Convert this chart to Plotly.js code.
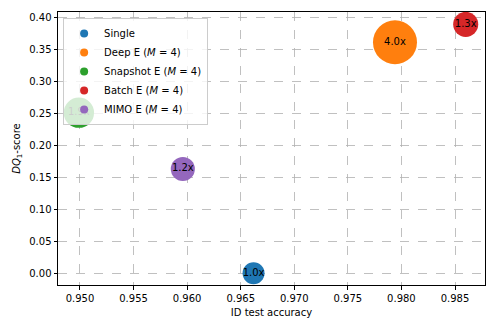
<!DOCTYPE html>
<html>
<head>
<meta charset="utf-8">
<script src="https://cdn.plot.ly/plotly-3.0.1.min.js"></script>
<style>
  html, body { margin: 0; padding: 0; background: #fff; }
  #plot { width: 498px; height: 332px; }
</style>
</head>
<body>
<div id="plot"></div>
<script>
// methods and their scores
var names = ['Single', 'Deep E (<i>M</i> = 4)', 'Snapshot E (<i>M</i> = 4)',
             'Batch E (<i>M</i> = 4)', 'MIMO E (<i>M</i> = 4)'];
var accuracy = [0.9662, 0.9794, 0.9499, 0.9860, 0.9596];
var dqScore = [0.000, 0.361, 0.251, 0.389, 0.163];
// relative cost, drawn as marker area
var cost = [1.0, 4.0, 1.9, 1.3, 1.2];
var costLabels = ['1.0x', '4.0x', '1.9x', '1.3x', '1.2x'];
var colors = ['#1f77b4', '#ff7f0e', '#2ca02c', '#d62728', '#9467bd'];

var font = 'DejaVu Sans, sans-serif';

var data = [];
// bubbles
for (var i = 0; i < names.length; i++) {
    data.push({
        type: 'scatter',
        mode: 'markers+text',
        x: [accuracy[i]],
        y: [dqScore[i]],
        text: [costLabels[i]],
        textposition: 'middle center',
        textfont: {family: font, size: 10, color: '#000'},
        marker: {size: [cost[i]], sizemode: 'area', sizeref: 1 / 242,
                 color: colors[i], opacity: 1, line: {width: 0}},
        legendgroup: 'g' + i,
        showlegend: false,
        hoverinfo: 'skip'
    });
}
// small legend markers
for (var j = 0; j < names.length; j++) {
    data.push({
        type: 'scatter',
        mode: 'markers',
        x: [null],
        y: [null],
        name: names[j],
        marker: {size: 8, color: colors[j]},
        legendgroup: 'g' + j
    });
}

var layout = {
    width: 498,
    height: 332,
    margin: {l: 58, r: 13, t: 12, b: 47},
    paper_bgcolor: '#fff',
    plot_bgcolor: '#fff',
    font: {family: font, size: 10, color: '#000'},
    showlegend: true,
    legend: {
        x: 0.012, y: 0.978, xanchor: 'left', yanchor: 'top',
        bgcolor: 'rgba(255,255,255,0.8)',
        bordercolor: '#cccccc', borderwidth: 1,
        font: {family: font, size: 10, color: '#000'},
        tracegroupgap: 0
    },
    xaxis: {
        range: [0.94795, 0.9878],
        dtick: 0.005, tick0: 0.95, tickformat: '.3f',
        ticks: 'outside', ticklen: 3.5, tickcolor: '#000',
        showline: true, linecolor: '#000', linewidth: 1, mirror: true,
        showgrid: true, gridcolor: '#b0b0b0', griddash: 'dash', gridwidth: 0.8,
        zeroline: false,
        title: {text: 'ID test accuracy', standoff: 6, font: {size: 10}}
    },
    yaxis: {
        range: [-0.0183, 0.4083],
        dtick: 0.05, tick0: 0, tickformat: '.2f',
        ticks: 'outside', ticklen: 3.5, tickcolor: '#000',
        showline: true, linecolor: '#000', linewidth: 1, mirror: true,
        showgrid: true, gridcolor: '#b0b0b0', griddash: 'dash', gridwidth: 0.8,
        zeroline: false,
        title: {text: '<i>DQ</i><sub>1</sub>-score', standoff: 6, font: {size: 10}}
    }
};

Plotly.newPlot('plot', data, layout, {displayModeBar: false, staticPlot: true});
</script>
</body>
</html>
